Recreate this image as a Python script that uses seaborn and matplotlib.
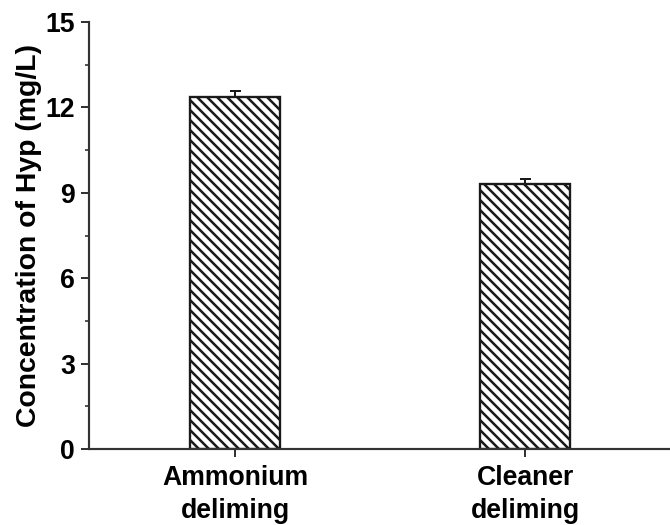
import numpy as np
import pandas as pd
import matplotlib
matplotlib.use('Agg')
import matplotlib.pyplot as plt
import seaborn as sns
from matplotlib.ticker import MultipleLocator

# data
categories = ['Ammonium\ndeliming', 'Cleaner\ndeliming']
hyp_values = [12.36, 9.31]
hyp_errors = [0.20, 0.17]

sns.set_theme(style='ticks')
plt.rcParams['font.family'] = ['Liberation Sans', 'DejaVu Sans']
plt.rcParams['font.weight'] = 'bold'
plt.rcParams['text.color'] = 'black'
plt.rcParams['axes.labelcolor'] = 'black'
plt.rcParams['xtick.labelcolor'] = 'black'
plt.rcParams['ytick.labelcolor'] = 'black'
plt.rcParams['hatch.linewidth'] = 1.5
plt.rcParams['hatch.color'] = 'black'

DPI = 120
fig = plt.figure(figsize=(670 / DPI, 525 / DPI), dpi=DPI)
ax = fig.add_axes([89 / 670, 76 / 525, 1 - 89 / 670, (449 - 22) / 525])

df = pd.DataFrame({'group': categories, 'hyp': hyp_values})
sns.barplot(data=df, x='group', y='hyp', ax=ax, width=0.31, color='white',
            edgecolor='#1a1a1a', linewidth=1.4, errorbar=None, hatch='\\\\\\\\')

ax.errorbar(np.arange(len(categories)), hyp_values,
            yerr=[np.zeros(len(hyp_errors)), hyp_errors],
            fmt='none', ecolor='#1a1a1a', elinewidth=1.2, capsize=3.3, capthick=1.2)

ax.set_xlim(-0.505, 1.5)
ax.set_ylim(0, 15)
ax.yaxis.set_major_locator(MultipleLocator(3))
ax.yaxis.set_minor_locator(MultipleLocator(1.5))

sns.despine(ax=ax)
for side in ['left', 'bottom']:
    ax.spines[side].set_linewidth(1.3)
    ax.spines[side].set_color('#333333')

ax.tick_params(axis='y', which='major', length=5, width=1.2, labelsize=16, pad=3.5,
               color='#333333', labelcolor='black')
ax.tick_params(axis='y', which='minor', length=2.5, width=1.0, color='#333333')
ax.tick_params(axis='x', which='major', length=4.5, width=1.2, labelsize=16, pad=5,
               color='#333333', labelcolor='black')
for lab in ax.get_xticklabels():
    lab.set_linespacing(1.35)
    lab.set_fontweight('bold')
for lab in ax.get_yticklabels():
    lab.set_fontweight('bold')

ax.set_xlabel('')
ax.set_ylabel('Concentration of Hyp (mg/L)', fontsize=17, fontweight='bold',
              color='black', labelpad=2)

fig.savefig('out.png', dpi=DPI)
